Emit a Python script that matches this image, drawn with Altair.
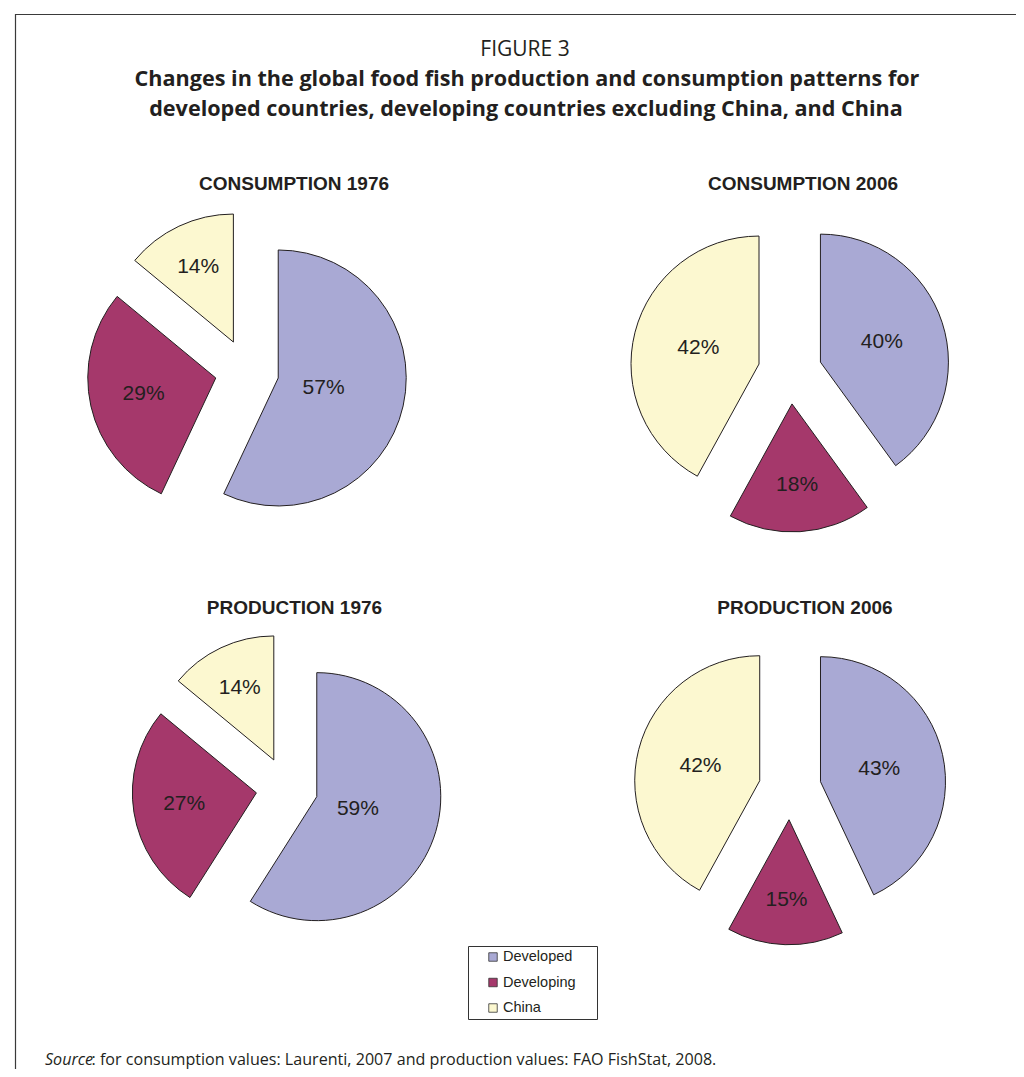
import math
import altair as alt
import pandas as pd

# ---------------- data ----------------
PANELS = ["CONSUMPTION 1976", "CONSUMPTION 2006", "PRODUCTION 1976", "PRODUCTION 2006"]
CATEGORIES = ["Developed", "Developing", "China"]
consumption_1976 = [57, 29, 14]
consumption_2006 = [40, 18, 42]
production_1976 = [59, 27, 14]
production_2006 = [43, 15, 42]
SERIES = [consumption_1976, consumption_2006, production_1976, production_2006]

TITLE_SMALL = "FIGURE 3"
TITLE_LINES = [
    "Changes in the global food fish production and consumption patterns for",
    "developed countries, developing countries excluding China, and China",
]
SOURCE_ITALIC = "Source"
SOURCE_REST = ": for consumption values: Laurenti, 2007 and production values: FAO FishStat, 2008."

# ---------------- style / layout ----------------
COLORS = ["#a9a9d4", "#a5386b", "#fcf8d0"]
INK = "#231f20"
W, H = 1008, 1061
CENTER_X = [239, 782, 279, 782]
CENTER_Y = [363, 364, 780, 780.5]
RADIUS = [128, 128, 124, 125]
EXPLODE = 0.25
PANEL_TITLE_X = [286, 795, 286.5, 797]
PANEL_TITLE_Y = [176, 176, 600, 600]
HEAD_FONT = "Open Sans"
ARIAL = "Liberation Sans, Arial, sans-serif"

rows = []
for p_i, (panel, vals) in enumerate(zip(PANELS, SERIES)):
    for c_i, (cat, v) in enumerate(zip(CATEGORIES, vals)):
        rows.append({"panel": panel, "pidx": p_i, "category": cat, "cidx": c_i, "value": v})
df = pd.DataFrame(rows)

base = (
    alt.Chart(df)
    .transform_joinaggregate(total="sum(value)", groupby=["panel"])
    .transform_window(cum="sum(value)", groupby=["panel"],
                      sort=[alt.SortField("cidx")], frame=[None, 0])
    .transform_calculate(
        start="(datum.cum - datum.value) / datum.total",
        end="datum.cum / datum.total",
        mid="2 * PI * (datum.cum - datum.value / 2) / datum.total",
        half="PI * datum.value / datum.total",
        r=f"{RADIUS}[datum.pidx]",
        bx=f"{CENTER_X}[datum.pidx]",
        by=f"{CENTER_Y}[datum.pidx]",
        label="datum.value + '%'",
    )
    .transform_calculate(
        cx=f"datum.bx + {EXPLODE} * datum.r * sin(datum.mid)",
        cy=f"datum.by - {EXPLODE} * datum.r * cos(datum.mid)",
        dist="(2 / 3) * datum.r * sin(datum.half) / datum.half",
    )
    .transform_calculate(
        lx="datum.cx + datum.dist * sin(datum.mid)",
        ly="datum.cy - datum.dist * cos(datum.mid)",
    )
)

color_enc = alt.Color("category:N", scale=alt.Scale(domain=CATEGORIES, range=COLORS), legend=None)

arcs = base.mark_arc(stroke=INK, strokeWidth=1, strokeJoin="miter").encode(
    x=alt.X("cx:Q", scale=None, axis=None),
    y=alt.Y("cy:Q", scale=None, axis=None),
    theta=alt.Theta("start:Q", scale=alt.Scale(domain=[0, 1], range=[0, 2 * math.pi]), stack=None),
    theta2="end:Q",
    radius=alt.Radius("r:Q", scale=None),
    color=color_enc,
)

labels = base.mark_text(font=ARIAL, fontSize=21, color=INK, baseline="middle", align="center").encode(
    x=alt.X("lx:Q", scale=None, axis=None),
    y=alt.Y("ly:Q", scale=None, axis=None),
    text="label:N",
)

# panel titles
ptitle_df = pd.DataFrame({"panel": PANELS, "pidx": list(range(len(PANELS)))})
panel_titles = (
    alt.Chart(ptitle_df)
    .transform_calculate(tx=f"{PANEL_TITLE_X}[datum.pidx]", ty=f"{PANEL_TITLE_Y}[datum.pidx]")
    .mark_text(font=ARIAL, fontSize=19, fontWeight="bold", color=INK, baseline="middle", align="center")
    .encode(x=alt.X("tx:Q", scale=None, axis=None), y=alt.Y("ty:Q", scale=None, axis=None), text="panel:N")
)

# header
def text_layer(txt, x, y, **kw):
    return alt.Chart(pd.DataFrame({"t": [txt]})).mark_text(**kw).encode(
        x=alt.value(x), y=alt.value(y), text="t:N")

head1 = text_layer(TITLE_SMALL, 517, 42, font=HEAD_FONT, fontSize=21, color=INK,
                   baseline="middle", align="center")
head2 = text_layer(TITLE_LINES[0], 519, 72, font=HEAD_FONT, fontSize=21.6, fontWeight="bold",
                   color=INK, baseline="middle", align="center")
head3 = text_layer(TITLE_LINES[1], 518, 102, font=HEAD_FONT, fontSize=21.6, fontWeight="bold",
                   color=INK, baseline="middle", align="center")

# frame
frame = alt.Chart(pd.DataFrame({"k": [0]})).mark_rect(
    fillOpacity=0, stroke="#3a3a3a", strokeWidth=1.2
).encode(x=alt.value(7.5), y=alt.value(6.5), x2=alt.value(1300), y2=alt.value(1300))

# legend (manual)
leg_df = pd.DataFrame({"category": CATEGORIES, "idx": list(range(len(CATEGORIES)))})
leg_base = alt.Chart(leg_df).transform_calculate(ly="949 + datum.idx * 25.5")
leg_box = alt.Chart(pd.DataFrame({"k": [0]})).mark_rect(
    fill="white", stroke="#333333", strokeWidth=1
).encode(x=alt.value(460.5), y=alt.value(938.5), x2=alt.value(589.5), y2=alt.value(1011.5))
leg_sw = leg_base.mark_square(size=72, stroke="#333333", strokeWidth=0.8, opacity=1).encode(
    x=alt.value(485), y=alt.Y("ly:Q", scale=None, axis=None), color=color_enc)
leg_tx = leg_base.mark_text(font=ARIAL, fontSize=14.5, color=INK, align="left", baseline="middle").encode(
    x=alt.value(495), y=alt.Y("ly:Q", scale=None, axis=None), text="category:N")

# source
src1 = text_layer(SOURCE_ITALIC, 37, 1052, font=HEAD_FONT, fontSize=16.1, fontStyle="italic",
                  color=INK, align="left", baseline="middle")
src2 = text_layer(SOURCE_REST, 83.5, 1052, font=HEAD_FONT, fontSize=16.1,
                  color=INK, align="left", baseline="middle")

chart = alt.layer(
    frame, head1, head2, head3, panel_titles, arcs, labels, leg_box, leg_sw, leg_tx, src1, src2
).properties(
    width=W, height=H, autosize=alt.AutoSizeParams(type="none"), padding=0, background="white"
).configure_view(stroke="transparent")

chart.save("out.html", embed_options={"renderer": "svg", "actions": False})
